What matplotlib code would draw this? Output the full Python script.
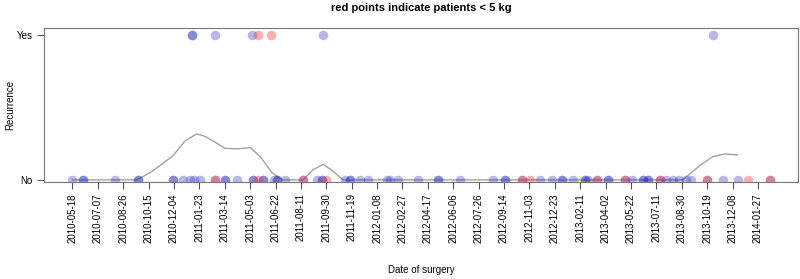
import matplotlib
matplotlib.use('Agg')
import matplotlib.pyplot as plt
import numpy as np
import pandas as pd

plt.rcParams['font.family'] = ['Liberation Sans', 'DejaVu Sans']

# surgery dates with no recurrence (blue = >= 5 kg, red = < 5 kg)
no_blue = ['2010-05-18', '2010-06-07', '2010-06-07', '2010-08-10', '2010-09-24', '2010-09-24',
           '2010-12-03', '2010-12-03', '2010-12-21', '2011-01-05', '2011-01-13', '2011-01-25',
           '2011-02-23', '2011-03-14', '2011-03-14', '2011-04-07', '2011-05-09', '2011-05-09',
           '2011-05-29', '2011-05-29', '2011-06-18', '2011-06-24', '2011-06-24', '2011-07-10',
           '2011-08-16', '2011-09-11', '2011-09-21', '2011-09-21', '2011-11-06', '2011-11-16',
           '2011-11-16', '2011-12-05', '2011-12-21', '2012-01-27', '2012-02-02', '2012-02-18',
           '2012-03-29', '2012-05-07', '2012-05-07', '2012-06-19', '2012-08-23', '2012-09-16',
           '2012-09-16', '2012-10-19', '2012-11-24', '2012-12-17', '2013-01-06', '2013-01-06',
           '2013-01-28', '2013-02-20', '2013-02-20', '2013-02-26', '2013-03-16', '2013-04-06',
           '2013-04-06', '2013-05-10', '2013-05-24', '2013-06-15', '2013-06-15', '2013-06-25',
           '2013-06-25', '2013-07-18', '2013-07-31', '2013-08-12', '2013-08-25', '2013-09-08',
           '2013-09-18', '2013-10-18', '2013-11-19', '2013-12-18', '2014-02-19']
no_red = ['2011-02-23', '2011-05-19', '2011-08-16', '2011-09-29', '2012-10-19', '2012-11-04',
          '2013-03-16', '2013-05-10', '2013-07-18', '2013-10-18', '2014-01-07', '2014-02-19']
yes_blue = ['2011-01-08', '2011-01-08', '2011-02-23', '2011-05-06', '2011-09-24', '2013-10-31']
yes_red = ['2011-05-19', '2011-06-14']

# smoothed recurrence rate
curve_dates = ['2010-05-18', '2010-09-22', '2010-10-18', '2010-11-07', '2010-12-02', '2010-12-26',
               '2011-01-18', '2011-02-03', '2011-02-23', '2011-03-14', '2011-04-09', '2011-05-03',
               '2011-05-23', '2011-06-15', '2011-07-05', '2011-08-15', '2011-09-04', '2011-09-24',
               '2011-10-13', '2011-11-02', '2013-09-01', '2013-10-05', '2013-10-30', '2013-11-23',
               '2013-12-18']
curve_vals = [0.0, 0.0, 0.05, 0.10, 0.166, 0.27, 0.317, 0.30, 0.26, 0.218, 0.214, 0.223,
              0.16, 0.05, 0.0, 0.0, 0.07, 0.108, 0.06, 0.0, 0.0, 0.10, 0.16, 0.179, 0.172]

tick_labels = ['2010-05-18', '2010-07-07', '2010-08-26', '2010-10-15', '2010-12-04', '2011-01-23',
               '2011-03-14', '2011-05-03', '2011-06-22', '2011-08-11', '2011-09-30', '2011-11-19',
               '2012-01-08', '2012-02-27', '2012-04-17', '2012-06-06', '2012-07-26', '2012-09-14',
               '2012-11-03', '2012-12-23', '2013-02-11', '2013-04-02', '2013-05-22', '2013-07-11',
               '2013-08-30', '2013-10-19', '2013-12-08', '2014-01-27']

blue = (0.15, 0.15, 0.75)
red = (1.0, 0.1, 0.1)

fig = plt.figure(figsize=(8, 2.79), dpi=100)
ax = fig.add_axes([0.055, 0.348, 0.9425, 0.552])

d = lambda s: pd.to_datetime(s)
ax.plot(d(curve_dates), curve_vals, color='#a0a0a0', lw=1.0, zorder=1)
ax.scatter(d(no_blue), np.zeros(len(no_blue)), s=48, color=blue, alpha=0.33, lw=0, zorder=2)
ax.scatter(d(no_red), np.zeros(len(no_red)), s=48, color=red, alpha=0.35, lw=0, zorder=2)
ax.scatter(d(yes_blue), np.ones(len(yes_blue)), s=48, color=blue, alpha=0.33, lw=0, zorder=2)
ax.scatter(d(yes_red), np.ones(len(yes_red)), s=48, color=red, alpha=0.35, lw=0, zorder=2)

ax.set_xlim(d('2010-05-18') - pd.Timedelta(days=56), d('2010-05-18') + pd.Timedelta(days=1429))
ax.set_ylim(-0.014, 1.048)
ax.set_xticks(d(tick_labels))
ax.set_xticklabels(tick_labels, rotation=90, fontsize=7)
ax.set_yticks([0, 1])
ax.set_yticklabels(['No', 'Yes'], fontsize=7)
ax.tick_params(length=5, color='#555555', pad=3)
for sp in ax.spines.values():
    sp.set_color('#777777')
    sp.set_linewidth(0.8)

ax.set_xlabel('Date of surgery', fontsize=7)
ax.xaxis.set_label_coords(0.5, -0.54)
ax.set_ylabel('Recurrence', fontsize=7)
ax.yaxis.set_label_coords(-0.038, 0.5)
ax.set_title('red points indicate patients < 5 kg', fontsize=8, fontweight='bold', pad=12)

fig.savefig('out.png', dpi=100)
